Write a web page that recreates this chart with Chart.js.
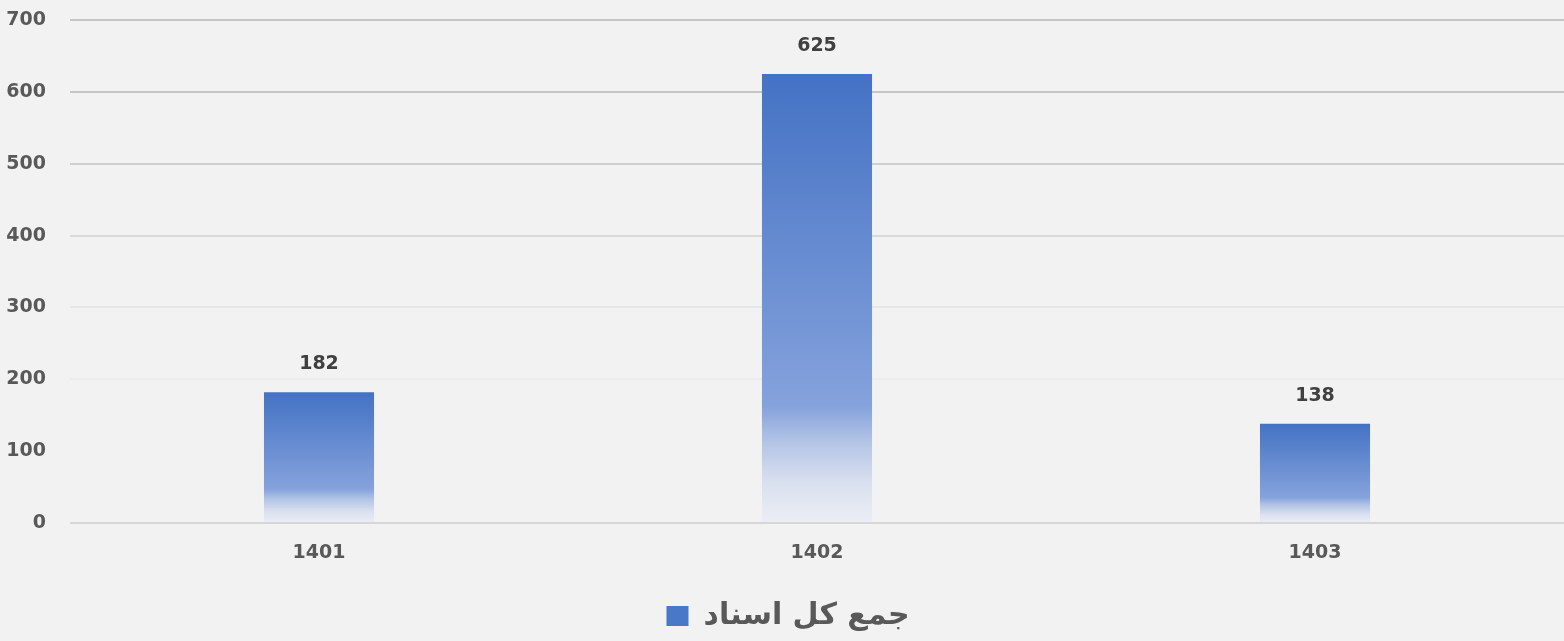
<!DOCTYPE html>
<html>
<head>
<meta charset="utf-8">
<script src="https://cdn.jsdelivr.net/npm/chart.js@4.4.1/dist/chart.umd.min.js"></script>
<style>
    html, body { margin: 0; padding: 0; background: #f2f2f2; }
    #wrap { width: 1564px; height: 641px; }
</style>
</head>
<body>
<div id="wrap"><canvas id="docChart"></canvas></div>
<script>
// data
const years = ['1401', '1402', '1403'];
const totalDocs = [182, 625, 138];
const seriesName = 'جمع کل اسناد';
const yTicks = [0, 100, 200, 300, 400, 500, 600, 700];

// grid lines fade out toward the bottom
const gridColors = {
    0: '#d6d6d6', 100: 'rgba(0,0,0,0)', 200: '#ececec', 300: '#e6e6e6',
    400: '#dadada', 500: '#cfcfcf', 600: '#c6c6c6', 700: '#c6c6c6'
};

const tickFont = { family: '"DejaVu Sans", sans-serif', size: 19, weight: 'bold' };

// each bar: solid blue on top, fading to near white at the base
function barGradient(context) {
    const chart = context.chart;
    const yScale = chart.scales.y;
    if (!yScale || context.raw == null) return '#4472c4';
    const top = yScale.getPixelForValue(context.raw);
    const base = yScale.getPixelForValue(0);
    const g = chart.ctx.createLinearGradient(0, top, 0, base);
    g.addColorStop(0, '#4472c4');
    g.addColorStop(0.74, '#85a2dc');
    g.addColorStop(0.82, '#b4c4e6');
    g.addColorStop(0.91, '#d9e0ef');
    g.addColorStop(1, '#eceef4');
    return g;
}

// value labels above the bars
const barLabels = {
    id: 'barLabels',
    afterDatasetsDraw(chart) {
        const ctx = chart.ctx;
        ctx.save();
        ctx.font = 'bold 19px "DejaVu Sans", sans-serif';
        ctx.fillStyle = '#404040';
        ctx.textAlign = 'center';
        ctx.textBaseline = 'middle';
        chart.getDatasetMeta(0).data.forEach((bar, i) => {
            ctx.fillText(totalDocs[i], bar.x, bar.y - 28);
        });
        ctx.restore();
    }
};

const ctx = document.getElementById('docChart').getContext('2d');
new Chart(ctx, {
    type: 'bar',
    data: {
        labels: years,
        datasets: [{
            label: seriesName,
            data: totalDocs,
            backgroundColor: barGradient,
            borderWidth: 0,
            barPercentage: 0.221,
            categoryPercentage: 1
        }]
    },
    options: {
        responsive: true,
        maintainAspectRatio: false,
        animation: false,
        // plot area runs a little past the right edge, as in the original
        layout: { padding: { top: 0, left: 0, bottom: 0, right: -12 } },
        scales: {
            x: {
                afterFit(scale) {
                    scale.height = 74;
                    scale.paddingLeft = 0;
                    scale.paddingRight = -12;
                },
                grid: { display: false },
                border: { display: false },
                ticks: { color: '#595959', padding: 11, font: tickFont }
            },
            y: {
                min: 0,
                max: 700,
                afterFit(scale) {
                    scale.width = 70;
                    scale.paddingTop = 20;
                    scale.paddingBottom = 0;
                },
                afterBuildTicks(scale) { scale.ticks = yTicks.map(v => ({ value: v })); },
                border: { display: false },
                grid: {
                    drawTicks: false,
                    lineWidth: 2,
                    color: c => gridColors[c.tick.value] || '#dddddd'
                },
                ticks: { color: '#595959', padding: 24, font: tickFont }
            }
        },
        plugins: {
            tooltip: { enabled: false },
            legend: {
                position: 'bottom',
                labels: {
                    color: '#595959',
                    boxWidth: 22,
                    boxHeight: 20,
                    padding: 4,
                    font: { family: '"DejaVu Sans", sans-serif', size: 30, weight: 'bold' },
                    generateLabels(chart) {
                        return [{
                            text: seriesName,
                            fillStyle: '#4a78c8',
                            strokeStyle: 'rgba(0,0,0,0)',
                            lineWidth: 0,
                            fontColor: '#595959',
                            datasetIndex: 0
                        }];
                    }
                }
            }
        }
    },
    plugins: [barLabels]
});
</script>
</body>
</html>
